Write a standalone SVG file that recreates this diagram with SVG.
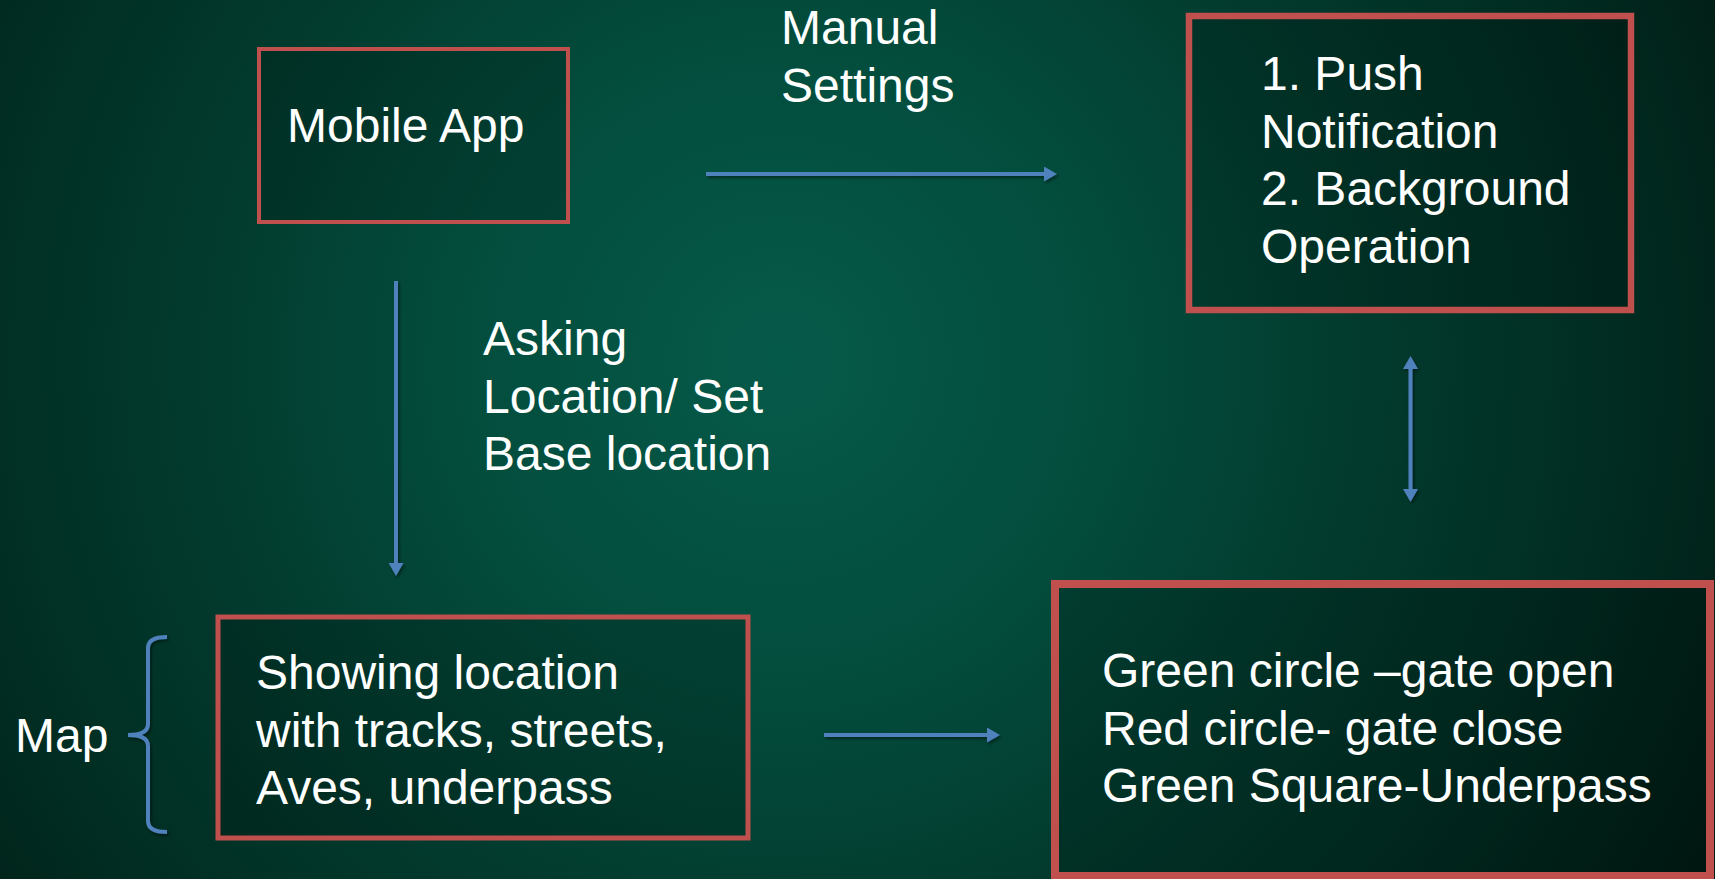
<svg xmlns="http://www.w3.org/2000/svg" width="1715" height="879" viewBox="0 0 1715 879">
  <defs>
    <radialGradient id="bg" gradientUnits="userSpaceOnUse" cx="780" cy="360" r="1050">
      <stop offset="0" stop-color="#065A49"/>
      <stop offset="0.3" stop-color="#034D3D"/>
      <stop offset="0.55" stop-color="#023B2E"/>
      <stop offset="0.8" stop-color="#012C21"/>
      <stop offset="1" stop-color="#011C15"/>
    </radialGradient>
    <filter id="shadow" filterUnits="userSpaceOnUse" x="0" y="0" width="1715" height="879">
      <feDropShadow dx="1.5" dy="2" stdDeviation="1.5" flood-color="#000" flood-opacity="0.45"/>
    </filter>
    <marker id="head" viewBox="0 0 13 15" refX="0" refY="7.5" markerWidth="13" markerHeight="15" markerUnits="userSpaceOnUse" orient="auto-start-reverse">
      <path d="M0,0 L13,7.5 L0,15 Z" fill="#4F81BD"/>
    </marker>
    <style>
      .box { fill: #000; fill-opacity: 0.18; stroke: #C0504D; }
      .txt { font-family: "Liberation Sans", Arial, sans-serif; font-size: 48px; fill: #FFFFFF; }
      .conn { stroke: #4F81BD; stroke-width: 4; fill: none; }
      .shadowed { filter: url(#shadow); }
    </style>
  </defs>

  <rect x="0" y="0" width="1715" height="879" fill="url(#bg)"/>

  <g id="node-mobile-app">
    <rect class="box" x="259" y="49" width="309" height="173" stroke-width="4"/>
    <text class="txt" x="287" y="142">Mobile App</text>
  </g>

  <g id="node-push">
    <rect class="box" x="1189" y="16" width="442" height="294" stroke-width="6.5"/>
    <text class="txt" x="1261" y="90">1. Push</text>
    <text class="txt" x="1261" y="147.5">Notification</text>
    <text class="txt" x="1261" y="205">2. Background</text>
    <text class="txt" x="1261" y="262.5">Operation</text>
  </g>

  <g id="node-showing">
    <rect class="box" x="218" y="617" width="530" height="221" stroke-width="5"/>
    <text class="txt" x="256" y="689">Showing location</text>
    <text class="txt" x="256" y="746.5">with tracks, streets,</text>
    <text class="txt" x="256" y="804">Aves, underpass</text>
  </g>

  <g id="node-legend">
    <rect class="box" x="1055" y="584" width="655" height="292" stroke-width="8"/>
    <text class="txt" x="1102" y="687">Green circle –gate open</text>
    <text class="txt" x="1102" y="744.5">Red circle- gate close</text>
    <text class="txt" x="1102" y="802">Green Square-Underpass</text>
  </g>

  <g id="node-map">
    <text class="txt" x="15" y="752">Map</text>
    <path class="conn shadowed" d="M167,637 Q148,637 148,648 L148,724 Q148,735 128,735 Q148,735 148,746 L148,821 Q148,832 167,832"/>
  </g>

  <g id="labels">
    <text class="txt" x="781" y="44">Manual</text>
    <text class="txt" x="781" y="101.5">Settings</text>
    <text class="txt" x="483" y="355">Asking</text>
    <text class="txt" x="483" y="412.5">Location/ Set</text>
    <text class="txt" x="483" y="470">Base location</text>
  </g>

  <g id="connectors" class="shadowed">
    <line class="conn" x1="706" y1="174" x2="1044" y2="174" marker-end="url(#head)"/>
    <line class="conn" x1="396" y1="281" x2="396" y2="563" marker-end="url(#head)"/>
    <line class="conn" x1="824" y1="735" x2="987" y2="735" marker-end="url(#head)"/>
    <line class="conn" x1="1410.5" y1="369" x2="1410.5" y2="489" marker-start="url(#head)" marker-end="url(#head)"/>
  </g>
</svg>
